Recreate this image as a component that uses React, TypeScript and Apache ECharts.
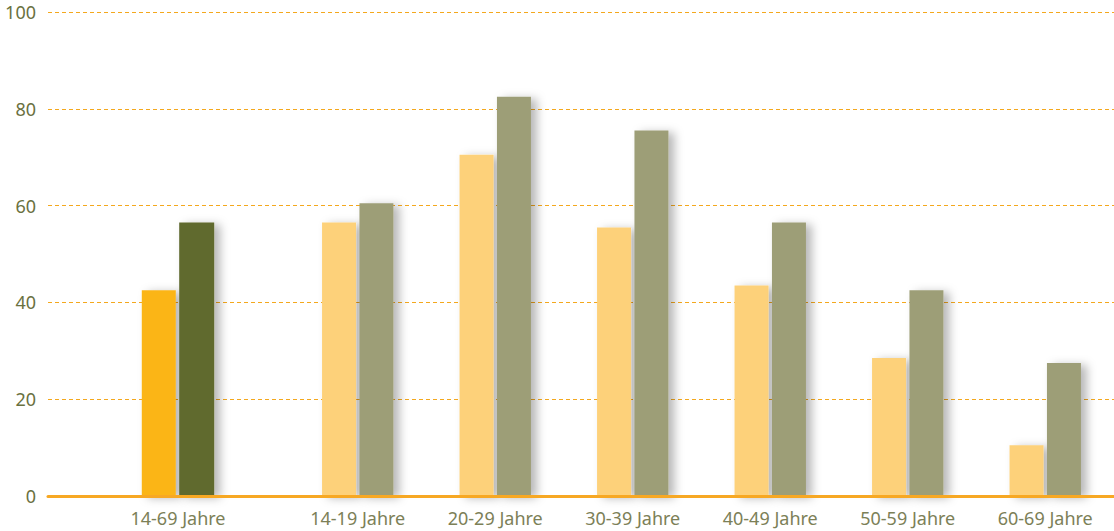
import React, { useEffect, useRef } from "react";
import * as echarts from "echarts";

const totalCategory = ["14-69 Jahre"];
const ageCategories = ["14-19 Jahre", "20-29 Jahre", "30-39 Jahre", "40-49 Jahre", "50-59 Jahre", "60-69 Jahre"];
const totalSeriesA = [42.5];
const totalSeriesB = [56.5];
const ageSeriesA = [56.5, 70.5, 55.5, 43.5, 28.5, 10.5];
const ageSeriesB = [60.5, 82.5, 75.5, 56.5, 42.5, 27.5];
const yTicks = [0, 20, 40, 60, 80, 100];

export default function App() {
  const ref = useRef<HTMLDivElement>(null);
  useEffect(() => {
    if (!ref.current) return;
    const chart = echarts.init(ref.current, null, { renderer: "svg" });
    const font = "'Noto Sans', sans-serif";
    const shadow = {
      shadowColor: "rgba(0,0,0,0.28)",
      shadowBlur: 10,
      shadowOffsetX: 6,
      shadowOffsetY: 2,
    };
    const hiddenY = (gridIndex: number) => ({
      type: "value",
      gridIndex,
      min: yTicks[0],
      max: yTicks[yTicks.length - 1],
      interval: 20,
      show: false,
    });
    const labelX = (gridIndex: number, data: string[]) => ({
      type: "category",
      gridIndex,
      data,
      axisLine: { show: false },
      axisTick: { show: false },
      axisLabel: { color: "#7C8057", fontSize: 18, fontFamily: font, margin: 13 },
    });
    chart.setOption({
      animation: false,
      grid: [
        { left: 48, right: 0, top: 12, bottom: 35 },
        { left: 109, width: 138, top: 12, bottom: 35 },
        { left: 289, width: 826, top: 12, bottom: 35 },
      ],
      xAxis: [
        {
          type: "category",
          gridIndex: 0,
          data: [""],
          axisLine: { show: true, lineStyle: { color: "#F7A823", width: 3 } },
          axisTick: { show: false },
          axisLabel: { show: false },
          z: 10,
        },
        labelX(1, totalCategory),
        labelX(2, ageCategories),
      ],
      yAxis: [
        {
          type: "value",
          gridIndex: 0,
          min: 0,
          max: 100,
          interval: 20,
          axisLine: { show: false },
          axisTick: { show: false },
          axisLabel: { color: "#6A7140", fontSize: 18, fontFamily: font, margin: 12 },
          splitLine: { show: true, lineStyle: { color: "#F4A81D", type: [4, 3], width: 1 } },
        },
        hiddenY(1),
        hiddenY(2),
      ],
      series: [
        {
          type: "bar",
          xAxisIndex: 1,
          yAxisIndex: 1,
          data: totalSeriesA,
          barWidth: 34,
          barGap: "10%",
          itemStyle: { color: "#FBB517", ...shadow },
        },
        {
          type: "bar",
          xAxisIndex: 1,
          yAxisIndex: 1,
          data: totalSeriesB,
          barWidth: 35,
          barGap: "10%",
          itemStyle: { color: "#606A2F", ...shadow },
        },
        {
          type: "bar",
          xAxisIndex: 2,
          yAxisIndex: 2,
          data: ageSeriesA,
          barWidth: 34,
          barGap: "10%",
          itemStyle: { color: "#FDD17A", ...shadow },
        },
        {
          type: "bar",
          xAxisIndex: 2,
          yAxisIndex: 2,
          data: ageSeriesB,
          barWidth: 34,
          barGap: "10%",
          itemStyle: { color: "#9D9E77", ...shadow },
        },
      ],
    });
    return () => chart.dispose();
  }, []);
  return (
    <div
      ref={ref}
      style={{ position: "fixed", left: 0, top: 0, width: 1114, height: 531, background: "#fff" }}
    />
  );
}
